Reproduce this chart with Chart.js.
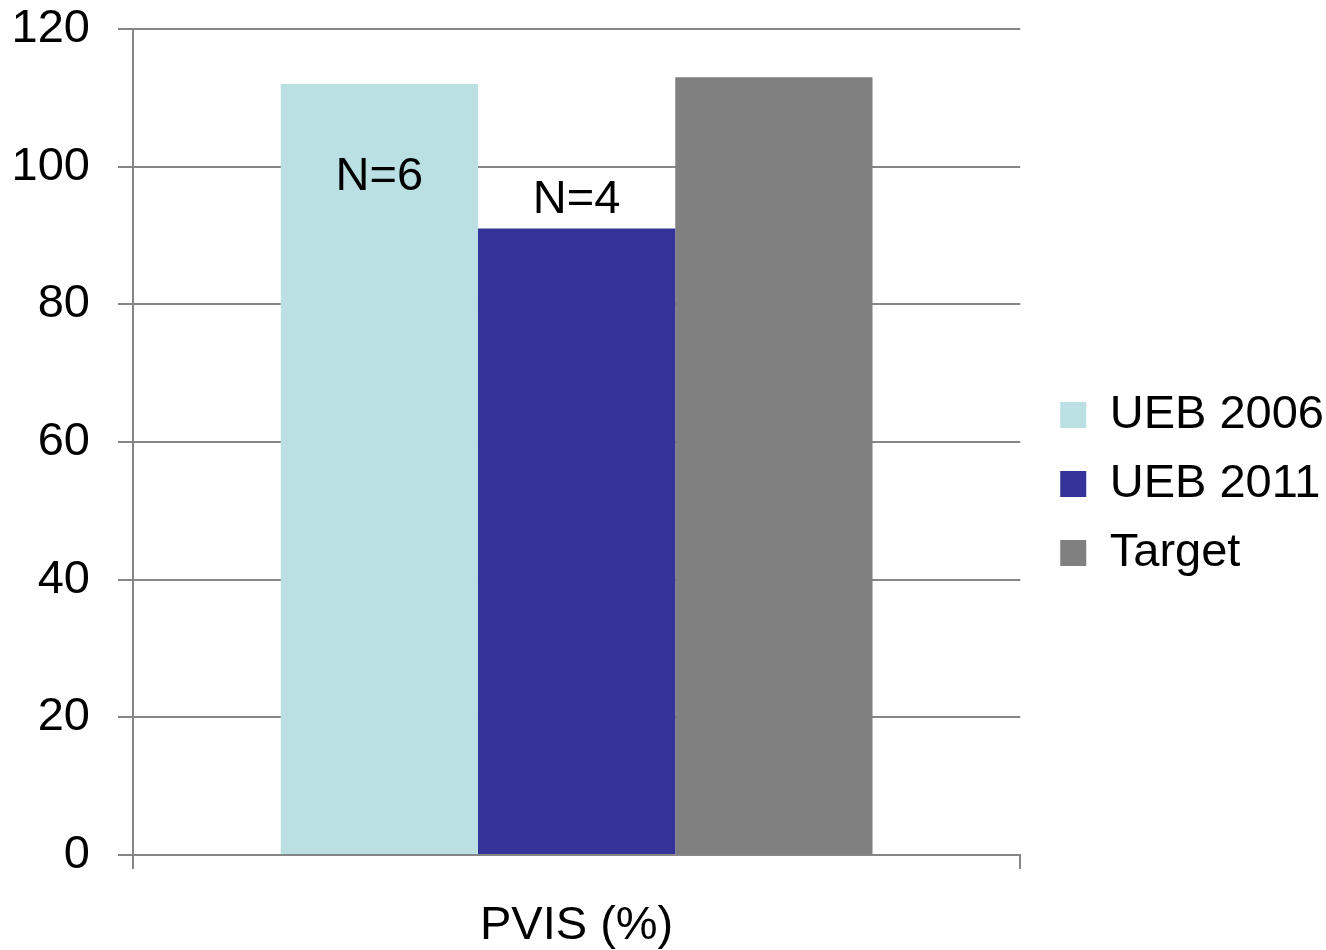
<!DOCTYPE html>
<html>
<head>
<meta charset="utf-8">
<script src="https://cdn.jsdelivr.net/npm/chart.js@4/dist/chart.umd.min.js"></script>
<style>
  body { margin: 0; background: #fff; }
  #wrap { width: 1326px; height: 950px; position: relative; }
</style>
</head>
<body>
<div id="wrap"><canvas id="pvisChart"></canvas></div>
<script>
// 데이터
const categories = ['PVIS (%)'];
const seriesNames = ['UEB 2006', 'UEB 2011', 'Target'];
const ueb2006 = [112];
const ueb2011 = [91];
const target = [113];
const barNotes = ['N=6', 'N=4', ''];
const yTicks = [0, 20, 40, 60, 80, 100, 120];

const FONT = '"Liberation Sans", Arial, sans-serif';
const GRID = '#868686';
const FS = 47;

// 막대 위 N 표시
const notePlugin = {
    id: 'barNotes',
    afterDatasetsDraw(chart, args, opts) {
        const ctx = chart.ctx;
        ctx.save();
        ctx.font = `${FS}px ${FONT}`;
        ctx.fillStyle = '#000';
        ctx.textAlign = 'center';
        ctx.textBaseline = 'middle';
        barNotes.forEach((txt, i) => {
            if (!txt) return;
            const bar = chart.getDatasetMeta(i).data[0];
            ctx.fillText(txt, bar.x, bar.y + opts.offsets[i]);
        });
        ctx.restore();
    }
};

// 범례를 그래프에서 조금 떨어뜨림
const legendShift = {
    id: 'legendShift',
    afterLayout(chart, args, opts) {
        if (!chart.legend) return;
        chart.legend.left += opts.dx;
        chart.legend.right += opts.dx;
    }
};

// eslint-disable-next-line no-undef
new Chart(document.getElementById('pvisChart'), {
    type: 'bar',
    data: {
        labels: categories,
        datasets: [
            { label: seriesNames[0], data: ueb2006, backgroundColor: '#BAE0E3' },
            { label: seriesNames[1], data: ueb2011, backgroundColor: '#333399' },
            { label: seriesNames[2], data: target, backgroundColor: '#808080' }
        ].map(d => ({ ...d, categoryPercentage: 0.667, barPercentage: 1, borderWidth: 0 }))
    },
    options: {
        responsive: true,
        maintainAspectRatio: false,
        animation: false,
        layout: { padding: { top: 18, right: 10, bottom: 0, left: 0 } },
        scales: {
            x: {
                grid: { display: true, drawOnChartArea: false, color: GRID, lineWidth: 2, tickLength: 14 },
                border: { display: true, color: GRID, width: 2 },
                ticks: { color: '#000', font: { family: FONT, size: FS }, padding: 29 },
                afterFit: (axis) => { axis.height = 95; }
            },
            y: {
                min: 0,
                max: 120,
                afterBuildTicks: (axis) => { axis.ticks = yTicks.map(v => ({ value: v })); },
                grid: { color: GRID, lineWidth: 2, tickLength: 15 },
                border: { display: true, color: GRID, width: 2 },
                ticks: { color: '#000', font: { family: FONT, size: FS }, padding: 28 },
                afterFit: (axis) => {
                    axis.width = 133;
                    axis.paddingTop = 29;
                }
            }
        },
        plugins: {
            legend: {
                position: 'right',
                labels: {
                    color: '#000',
                    font: { family: FONT, size: FS },
                    boxWidth: 26,
                    boxHeight: 26,
                    padding: 22
                }
            },
            tooltip: { enabled: false },
            barNotes: { offsets: [93, -29, 0] },
            legendShift: { dx: 18 }
        }
    },
    plugins: [notePlugin, legendShift]
});
</script>
</body>
</html>
